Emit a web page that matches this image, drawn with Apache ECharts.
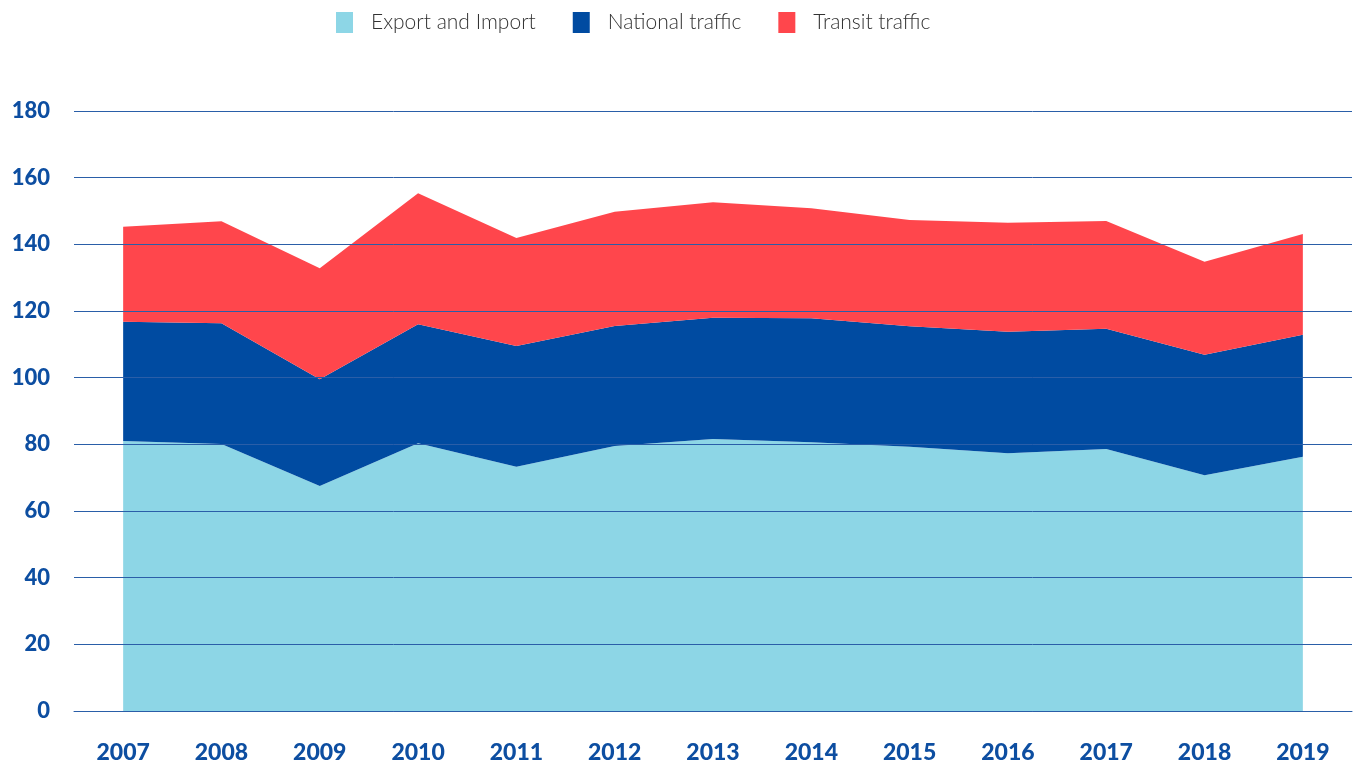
<!DOCTYPE html>
<html>
<head>
<meta charset="utf-8">
<script src="https://cdn.jsdelivr.net/npm/echarts@6/dist/echarts.min.js"></script>
<style>
  html, body { margin: 0; padding: 0; background: #fff; }
  #chart { width: 1356px; height: 767px; }
</style>
</head>
<body>
<div id="chart"></div>
<script>
// years on the x axis
var years = ['2007', '2008', '2009', '2010', '2011', '2012', '2013', '2014', '2015', '2016', '2017', '2018', '2019'];

// stacked series values
var exportImport = [81, 80.1, 67.5, 80.3, 73.3, 79.5, 81.6, 80.6, 79.3, 77.3, 78.6, 70.7, 76.3];
var nationalTraffic = [35.8, 36.2, 32, 35.7, 36.2, 36, 36.4, 37.2, 36.1, 36.5, 36.1, 36.2, 36.6];
var transitTraffic = [28.5, 30.6, 33.3, 39.3, 32.4, 34.3, 34.6, 33, 31.9, 32.7, 32.3, 27.9, 30.2];

var axisBlue = '#0d4ea1';
var gridBlue = '#2a5ea8';

var chart = echarts.init(document.getElementById('chart'), null, { renderer: 'canvas' });

function areaSeries(name, data, color) {
  return {
    name: name,
    type: 'line',
    stack: 'total',
    data: data,
    symbol: 'none',
    lineStyle: { width: 0, color: color },
    itemStyle: { color: color },
    areaStyle: { color: color, opacity: 1 },
    z: 2
  };
}

var option = {
  animation: false,
  color: ['#8dd6e6', '#004ba1', '#ff464c'],
  legend: {
    top: 7,
    left: 331,
    itemWidth: 17,
    itemHeight: 21,
    itemGap: 37,
    icon: 'rect',
    textStyle: {
      fontFamily: 'Lato',
      fontWeight: 300,
      fontSize: 21,
      color: '#333',
      padding: [0, 0, 0, 13]
    },
    data: ['Export and Import', 'National traffic', 'Transit traffic']
  },
  grid: {
    left: 74,
    right: 4,
    top: 111,
    bottom: 56,
    containLabel: false
  },
  xAxis: {
    type: 'category',
    data: years,
    boundaryGap: true,
    z: 10,
    axisLine: { show: true, lineStyle: { color: gridBlue, width: 1 } },
    axisTick: { show: false },
    axisLabel: {
      margin: 30,
      fontFamily: 'Lato',
      fontWeight: 900,
      fontSize: 23,
      color: axisBlue
    }
  },
  yAxis: {
    type: 'value',
    min: 0,
    max: 180,
    interval: 20,
    z: 10,
    axisLine: { show: false },
    axisTick: { show: false },
    splitLine: { show: true, lineStyle: { color: gridBlue, width: 1 } },
    axisLabel: {
      margin: 24,
      fontFamily: 'Lato',
      fontWeight: 900,
      fontSize: 22,
      color: axisBlue
    }
  },
  series: [
    areaSeries('Export and Import', exportImport, '#8dd6e6'),
    areaSeries('National traffic', nationalTraffic, '#004ba1'),
    areaSeries('Transit traffic', transitTraffic, '#ff464c')
  ]
};

chart.setOption(option);
</script>
</body>
</html>
